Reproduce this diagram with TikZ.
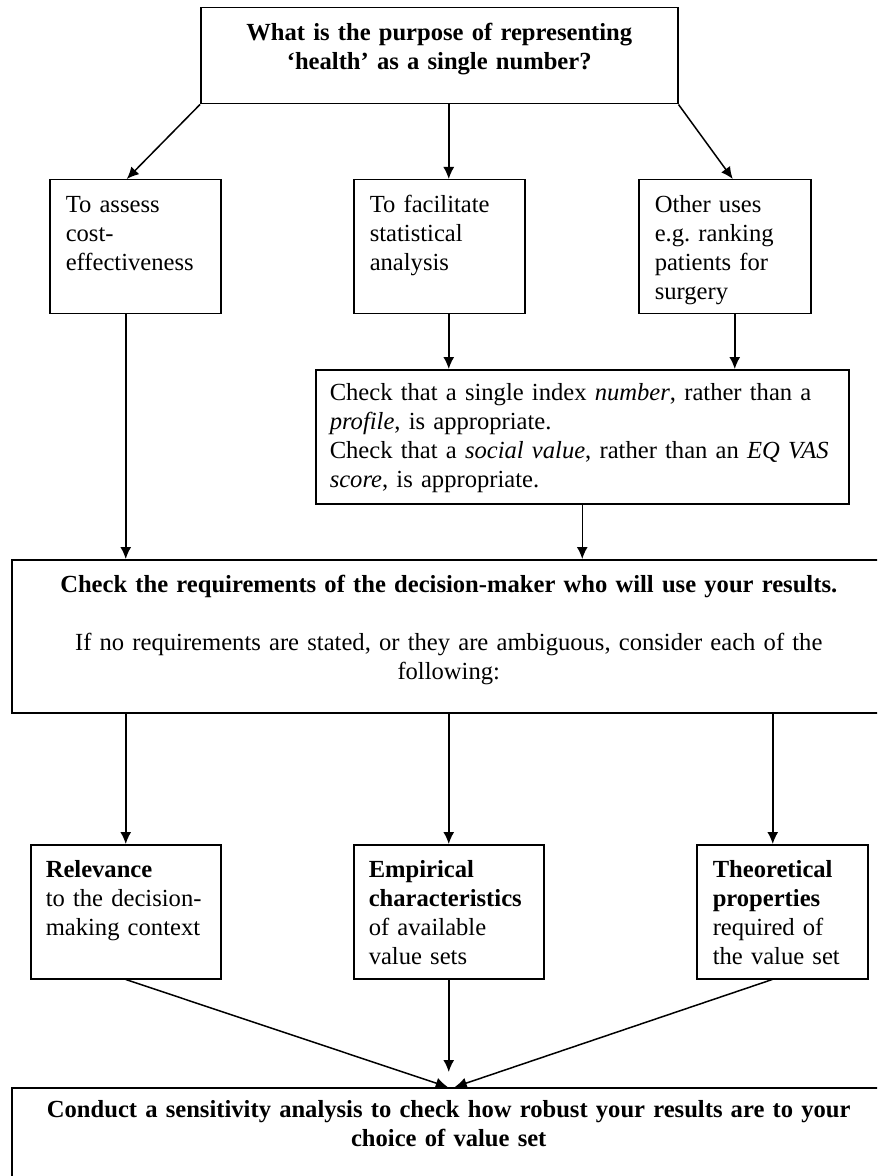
\documentclass[tikz,border=0pt]{standalone}
\usepackage{fontspec}
\setmainfont{Liberation Serif}
\usepackage{tikz}
\usetikzlibrary{arrows.meta,calc,positioning}
\frenchspacing

\tikzset{
	box/.style={draw, line width=0.75pt, anchor=north west, inner ysep=0pt, inner xsep=8pt,
		align=left, text height=16.5pt, font=\fontsize{12.3}{14.5}\selectfont},
	arr/.style={line width=0.75pt, -{Latex[length=6pt,width=5.5pt]}},
}

\begin{document}
\begin{tikzpicture}[x=0.5pt,y=-0.5pt]
		\useasboundingbox (0,0) rectangle (877,1176);
		\clip (0,0) rectangle (877,1176);
		% question at the top
		\node[box, inner xsep=0pt, align=center, text width=238.5pt, text depth=31.5pt] (purpose) at (200,7)
			{\bfseries What is the purpose of representing\\ `health' as a single number?};
		% the three purposes
		\node[box, text width=69.5pt, text depth=50.5pt] (cost) at (49,179)
			{To assess\\ cost-\\ effectiveness};
		\node[box, text width=69.5pt, text depth=50.5pt] (stat) at (353,179)
			{To facilitate\\ statistical\\ analysis};
		\node[box, text width=70pt, text depth=50.5pt] (other) at (638,179)
			{Other uses\\ e.g. ranking\\ patients for\\ surgery};
		\node[box, inner xsep=7pt, text width=252.5pt, text height=15.5pt, text depth=51.5pt] (check) at (315,369)
			{Check that a single index \emph{number}, rather than a\\
			\emph{profile}, is appropriate.\\
			Check that a \emph{social value}, rather than an \emph{EQ VAS}\\
			\emph{score}, is appropriate.};
		% requirements
		\node[box, inner xsep=0pt, align=center, text width=437pt, text depth=60pt] (req) at (11,559)
			{\textbf{Check the requirements of the decision-maker who will use your results.}\\[14.5pt]
			If no requirements are stated, or they are ambiguous, consider each of the\\ following:};
		% the three criteria
		\node[box, inner xsep=7.5pt, text width=80pt, text depth=50.5pt] (rel) at (30,844)
			{\textbf{Relevance}\\ to the decision-\\ making context};
		\node[box, inner xsep=7.5pt, text width=80pt, text depth=50.5pt] (emp) at (353,844)
			{\textbf{Empirical}\\ \textbf{characteristics}\\ of available\\ value sets};
		\node[box, text width=69.5pt, text depth=50.5pt] (theo) at (696,844)
			{\textbf{Theoretical}\\ \textbf{properties}\\ required of\\ the value set};
		\node[box, inner xsep=0pt, align=center, text width=437pt, text height=15pt, text depth=120pt] (sens) at (11,1087)
			{\bfseries Conduct a sensitivity analysis to check how robust your results are to your\\ choice of value set};
		% arrows
		\draw[arr] (purpose.south west) -- ([xshift=-4.25pt]cost.north);
		\draw[arr] (purpose.south -| emp.north) -- (stat.north -| emp.north);
		\draw[arr] (purpose.south east) -- ([xshift=4pt]other.north);
		\draw[arr] (stat.south -| emp.north) -- (check.north -| emp.north);
		\draw[arr] ([xshift=5pt]other.south) -- ([xshift=5pt]other.south |- check.north);
		\draw[arr] (cost.south -| rel.north) -- (req.north -| rel.north);
		\draw[arr] (check.south) -- (check.south |- req.north);
		\draw[arr] (req.south -| rel.north) -- (rel.north);
		\draw[arr] (req.south -| emp.north) -- (emp.north);
		\draw[arr] ([xshift=-4.75pt]theo.north |- req.south) -- ([xshift=-4.75pt]theo.north);
		\draw[arr] (rel.south) -- ([xshift=-0.5pt]sens.north);
		\draw[arr, shorten >=7.5pt] (emp.south) -- (sens.north);
		\draw[arr] ([xshift=-5pt]theo.south) -- ([xshift=3pt]sens.north);
\end{tikzpicture}
\end{document}
